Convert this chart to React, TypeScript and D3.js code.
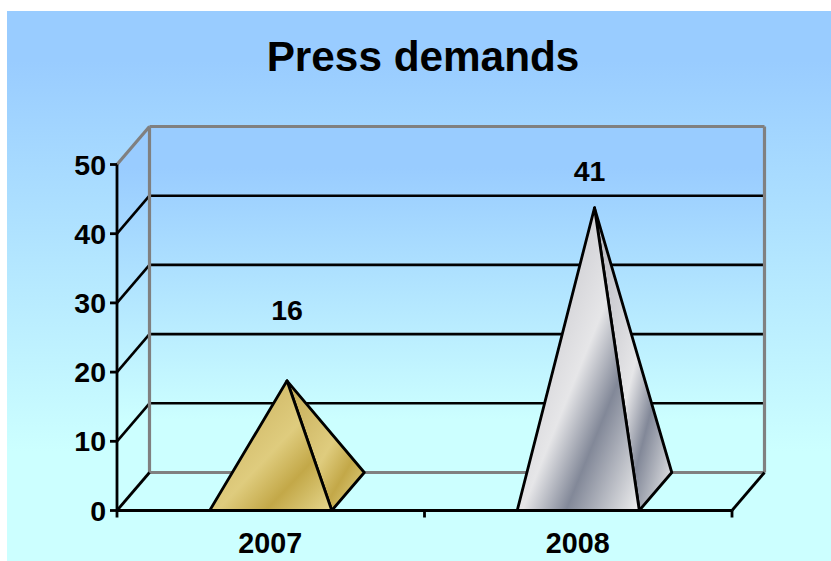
import React from "react";
import * as d3 from "d3";

const categories = ["2007", "2008"];
const seriesValues = [16, 41];
const valueTicks = [0, 10, 20, 30, 40, 50];
const goldStops = [
  [0, "#c4aa55"],
  [0.53, "#dfcc7e"],
  [0.73, "#c3a848"],
  [1, "#e6d88f"],
];
const steelStops = [
  [0, "#b4b4bc"],
  [0.52, "#e6e6e8"],
  [0.7, "#828898"],
  [1, "#f0f0f0"],
];
const stopSets = [goldStops, steelStops];
const labelOffsets = [
  [0, -61],
  [-5, -27],
];

const WIDTH = 831;
const HEIGHT = 561;
const depthX = 32.5;
const depthY = -38;

const x = d3
  .scaleBand<string>()
  .domain(categories)
  .range([117, 732])
  .paddingInner(0.603)
  .paddingOuter(0.3015);
const y = d3.scaleLinear().domain([0, 50]).range([510.5, 164.5]);

const line = d3.line();
const pt = (px: number, py: number, f = 0): [number, number] => [px + depthX * f, py + depthY * f];

function Stops({ stops }: { stops: (string | number)[][] }) {
  return (
    <>
      {stops.map(([o, c]) => (
        <stop key={String(o)} offset={Number(o)} stopColor={String(c)} />
      ))}
    </>
  );
}

export default function App() {
  const font = "'Liberation Sans', Arial, sans-serif";
  const right = x.range()[1];
  const left = x.range()[0];
  const centers = categories.map((c) => x(c)! + x.bandwidth() / 2);
  const tickXs = [left, (left + right) / 2, right];
  const wallTop = y(50) + depthY;
  const wallBottom = y(0) + depthY;

  return (
    <svg
      width={WIDTH}
      height={HEIGHT}
      style={{ position: "absolute", left: 0, top: 0, display: "block", background: "#fff" }}
    >
      <defs>
        <linearGradient id="bg" x1="0" y1="0" x2="0" y2="1">
          <stop offset="0" stopColor="#99ccff" />
          <stop offset="0.09" stopColor="#99ccff" />
          <stop offset="0.8" stopColor="#ccffff" />
          <stop offset="1" stopColor="#ccffff" />
        </linearGradient>
        <linearGradient id="wall" gradientUnits="userSpaceOnUse" x1="0" y1={wallTop} x2="0" y2={wallBottom}>
          <stop offset="0" stopColor="#99ccff" />
          <stop offset="0.12" stopColor="#99ccff" />
          <stop offset="0.85" stopColor="#ccffff" />
          <stop offset="1" stopColor="#ccffff" />
        </linearGradient>
        {stopSets.map((stops, i) => (
          <linearGradient key={i} id={`metal${i}`} x1="0" y1="0" x2="1" y2="1">
            <Stops stops={stops} />
          </linearGradient>
        ))}
      </defs>

      <rect x={7} y={11} width={WIDTH - 7} height={HEIGHT - 11} fill="url(#bg)" />

      <text
        x={423}
        y={71}
        textAnchor="middle"
        fontFamily={font}
        fontWeight="bold"
        fontSize={42.3}
        fill="#000"
      >
        Press demands
      </text>

      {/* Back wall and side wall panels */}
      <path
        d={line([pt(left, y(50), 1), pt(right, y(50), 1), pt(right, y(0), 1), pt(left, y(0), 1)])! + "Z"}
        fill="url(#wall)"
      />
      <path
        d={line([pt(left, y(50)), pt(left, y(50), 1), pt(left, y(0), 1), pt(left, y(0))])! + "Z"}
        fill="url(#wall)"
      />

      {/* Back wall grid lines with their slanted continuation on the side wall */}
      {valueTicks.map((t) => {
        const edge = t === 0 || t === 50;
        const stroke = edge ? "#808080" : "#000";
        return (
          <g key={t} fill="none" strokeWidth={edge ? 3.2 : 2.6}>
            <path d={line([pt(left, y(t), 1), pt(right, y(t), 1)])!} stroke={stroke} />
            {t > 0 && <path d={line([pt(left, y(t)), pt(left, y(t), 1)])!} stroke={stroke} />}
          </g>
        );
      })}
      <path
        d={line([pt(left, y(0), 1), pt(left, y(50), 1)])!}
        stroke="#808080"
        strokeWidth={3.2}
        fill="none"
      />
      <path
        d={line([pt(right, y(0), 1), pt(right, y(50), 1)])!}
        stroke="#808080"
        strokeWidth={3.2}
        fill="none"
      />

      {/* Floor edges and the front axes */}
      <g stroke="#000" strokeWidth={2.8} fill="none">
        <path d={line([pt(left, y(0)), pt(left, y(0), 1)])!} />
        <path d={line([pt(right, y(0)), pt(right, y(0), 1)])!} />
        <path d={line([pt(left, y(0)), pt(right, y(0))])!} />
        <path d={line([pt(left, y(0)), pt(left, y(50))])!} />
        {valueTicks.map((t) => (
          <path key={t} d={line([pt(left - 7, y(t)), pt(left, y(t))])!} />
        ))}
        {tickXs.map((tx) => (
          <path key={tx} d={line([pt(tx, y(0)), pt(tx, y(0) + 7)])!} />
        ))}
      </g>

      {/* Pyramids: a front face and a right-hand side face */}
      {categories.map((c, i) => {
        const x0 = x(c)!;
        const x1 = x0 + x.bandwidth();
        const v = seriesValues[i];
        const apex = pt(centers[i], y(v), 0.5);
        const frontL = pt(x0, y(0));
        const frontR = pt(x1, y(0));
        const backR = pt(x1, y(0), 1);
        return (
          <g key={c} stroke="#000" strokeWidth={2.8} strokeLinejoin="round" fill={`url(#metal${i})`}>
            <path d={line([apex, frontR, backR])! + "Z"} />
            <path d={line([apex, frontL, frontR])! + "Z"} />
          </g>
        );
      })}

      {/* Value labels above the peaks */}
      {categories.map((c, i) => (
        <text
          key={c}
          x={centers[i] + depthX / 2 + labelOffsets[i][0]}
          y={y(seriesValues[i]) + depthY / 2 + labelOffsets[i][1]}
          textAnchor="middle"
          fontFamily={font}
          fontWeight="bold"
          fontSize={28.5}
          fill="#000"
        >
          {seriesValues[i]}
        </text>
      ))}

      {valueTicks.map((t) => (
        <text
          key={t}
          x={106}
          y={y(t) + 10}
          textAnchor="end"
          fontFamily={font}
          fontWeight="bold"
          fontSize={28.5}
          fill="#000"
        >
          {t}
        </text>
      ))}

      {categories.map((c, i) => (
        <text
          key={c}
          x={centers[i] - 0.5}
          y={552.5}
          textAnchor="middle"
          fontFamily={font}
          fontWeight="bold"
          fontSize={28.7}
          fill="#000"
        >
          {c}
        </text>
      ))}
    </svg>
  );
}
